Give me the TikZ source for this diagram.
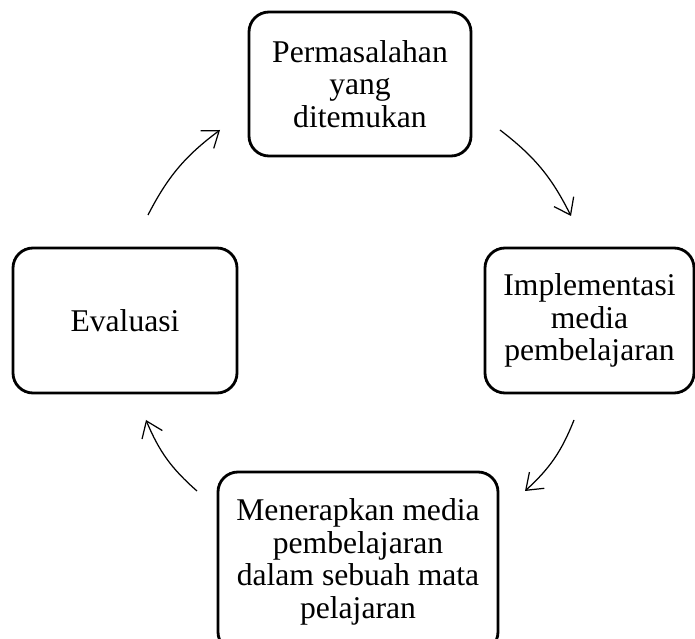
\documentclass[tikz,border=0pt]{standalone}
\usepackage{fontspec}
\setmainfont{Liberation Serif}
\usetikzlibrary{arrows.meta}

\begin{document}
\begin{tikzpicture}[tahap/.style={draw, line width=1.6pt, rounded corners=0.4cm, align=center, inner sep=0pt, font=\fontsize{18}{18.5}\selectfont},
	panah/.style={line width=0.7pt, -{Straight Barb[length=3mm,width=4.4mm]}}]
\useasboundingbox (0,0) rectangle (13.9,12.78);
\node [tahap, minimum width=4.44cm, minimum height=2.88cm] (a) at (7.2,11.1) {Permasalahan\\yang\\ditemukan};
\node [tahap, minimum width=4.18cm, minimum height=2.9cm] (b) at (11.79,6.37) {Implementasi\\media\\pembelajaran};
\node [tahap, minimum width=5.6cm, minimum height=3.6cm] (c) at (7.16,1.54) {Menerapkan media\\pembelajaran\\dalam sebuah mata\\pelajaran};
\node [tahap, minimum width=4.48cm, minimum height=2.9cm] (d) at (2.5,6.37) {Evaluasi};
\coordinate (s1) at (2.96,8.48);
\coordinate (e1) at (4.40,10.18);
\coordinate (s2) at (10.0,10.18);
\coordinate (e2) at (11.42,8.46);
\coordinate (s3) at (11.48,4.38);
\coordinate (e3) at (10.5,2.96);
\coordinate (s4) at (3.94,2.96);
\coordinate (e4) at (2.92,4.38);
\draw [panah] (s1) to[bend left=13] (e1);
\draw [panah] (s2) to[bend left=13] (e2);
\draw [panah] (s3) to[bend left=13] (e3);
\draw [panah] (s4) to[bend left=13] (e4);
\end{tikzpicture}
\end{document}
